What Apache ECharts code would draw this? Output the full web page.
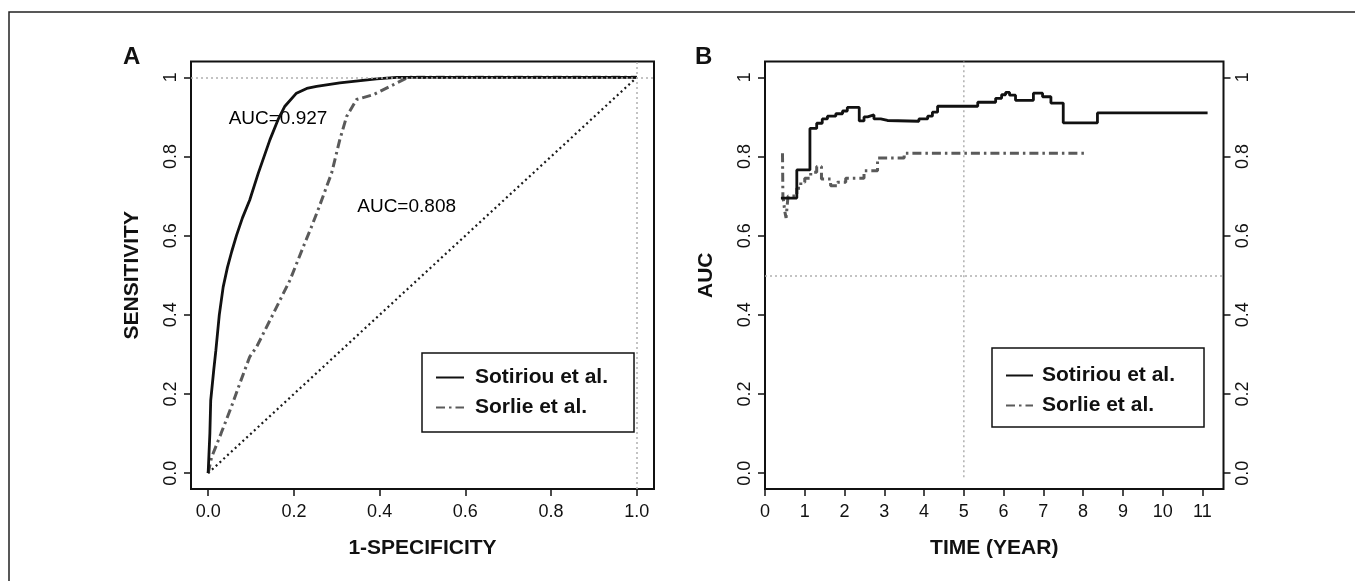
<!DOCTYPE html>
<html><head><meta charset="utf-8">
<script src="https://cdn.jsdelivr.net/npm/echarts@6/dist/echarts.min.js"></script>
<style>html,body{margin:0;padding:0;background:#fff}#c{width:1355px;height:581px}</style>
</head><body><div id="c"></div><script>
// ---------- data ----------
const seriesNames = ['Sotiriou et al.', 'Sorlie et al.'];
const xTicksA = [0, 0.2, 0.4, 0.6, 0.8, 1.0];
const xTickLabelsA = ['0.0', '0.2', '0.4', '0.6', '0.8', '1.0'];
const yTicks = [0, 0.2, 0.4, 0.6, 0.8, 1];
const yTickLabels = ['0.0', '0.2', '0.4', '0.6', '0.8', '1'];
const xTicksB = [0, 1, 2, 3, 4, 5, 6, 7, 8, 9, 10, 11];
const xTickLabelsB = ['0', '1', '2', '3', '4', '5', '6', '7', '8', '9', '10', '11'];

// Panel A: ROC curves [1-specificity, sensitivity]
const rocSotiriou = [[0,0],[0.002,0.05],[0.004,0.1],[0.006,0.184],[0.013,0.26],[0.018,0.31],[0.026,0.4],[0.035,0.47],
  [0.045,0.52],[0.055,0.56],[0.066,0.6],[0.08,0.645],[0.097,0.69],[0.117,0.758],[0.144,0.842],[0.163,0.893],
  [0.179,0.927],[0.206,0.96],[0.23,0.972],[0.253,0.977],[0.307,0.986],[0.393,0.996],[0.44,1],[1,1]];
const rocSorlie = [[0,0],[0.008,0.04],[0.03,0.1],[0.055,0.17],[0.075,0.23],[0.097,0.294],[0.113,0.319],[0.152,0.403],
  [0.191,0.488],[0.222,0.572],[0.242,0.625],[0.258,0.67],[0.275,0.72],[0.288,0.758],[0.307,0.842],[0.323,0.901],
  [0.346,0.944],[0.385,0.956],[0.424,0.977],[0.463,0.998],[0.47,1],[1,1]];
const rocChance = [[0,0],[1,1]];
const aucLabels = [[0.163, 0.895, 'AUC=0.927'], [0.463, 0.673, 'AUC=0.808']];
const refA_h = 1, refA_v = 1;

// Panel B: time-dependent AUC [year, AUC]
const aucSotiriou = [[0.4,0.695],[0.8,0.766],[1.13,0.871],[1.3,0.884],[1.44,0.895],[1.57,0.902],[1.78,0.908],[1.95,0.915],
  [2.07,0.924],[2.37,0.890],[2.49,0.900],[2.58,0.905],[2.74,0.895],[2.91,0.891],[3.08,0.889],[3.87,0.895],[4.09,0.902],
  [4.21,0.912],[4.34,0.927],[5.35,0.937],[5.8,0.947],[5.95,0.956],[6.05,0.962],[6.15,0.955],[6.3,0.942],[6.75,0.960],
  [6.98,0.951],[7.19,0.935],[7.5,0.885],[8.36,0.910],[11.13,0.910]];
const aucSorlie = [[0.44,0.808],[0.45,0.70],[0.5,0.66],[0.53,0.645],[0.58,0.70],[0.8,0.72],[0.9,0.735],[1.0,0.745],
  [1.15,0.76],[1.3,0.775],[1.42,0.743],[1.65,0.726],[1.82,0.735],[2.03,0.745],[2.49,0.764],[2.83,0.796],[3.5,0.808],[8.11,0.808]];
const refB_h = 0.5;
const refB_v = [[5,-0.01],[5,1.04]];

// ---------- chart ----------
const F = 'Liberation Sans, Arial, Helvetica, sans-serif';
const INK = '#111';
function fmt(ticks, labels) {
  return function (v) { const i = ticks.findIndex(t => Math.abs(t - v) < 1e-9); return i >= 0 ? labels[i] : ''; };
}
function xAxisCfg(gi, min, max, ticks, labels, name) {
  return {
    type: 'value', gridIndex: gi, min: min, max: max, name: name, nameLocation: 'middle', nameGap: 49,
    nameTextStyle: { fontSize: 21, fontWeight: 'bold', color: INK, fontFamily: F },
    axisLine: { show: false, onZero: false }, splitLine: { show: false },
    axisTick: { show: true, inside: false, length: 7, lineStyle: { color: INK, width: 1.5 }, customValues: ticks },
    axisLabel: { show: true, margin: 14, fontSize: 18, color: INK, fontFamily: F, customValues: ticks,
      showMinLabel: true, showMaxLabel: true, formatter: fmt(ticks, labels) }
  };
}
function yAxisCfg(gi, pos, name) {
  return {
    type: 'value', gridIndex: gi, position: pos, min: -0.04, max: 1.04, name: name, nameLocation: 'middle', nameGap: 48,
    nameRotate: 90,
    nameTextStyle: { fontSize: 21, fontWeight: 'bold', color: INK, fontFamily: F },
    axisLine: { show: false, onZero: false }, splitLine: { show: false },
    axisTick: { show: true, inside: false, length: 7, lineStyle: { color: INK, width: 1.5 }, customValues: yTicks },
    axisLabel: { show: true, margin: 11, rotate: 90, fontSize: 18, color: INK, fontFamily: F, customValues: yTicks,
      showMinLabel: true, showMaxLabel: true, formatter: fmt(yTicks, yTickLabels) }
  };
}
const solidStyle = { color: INK, width: 2.8, type: 'solid' };
const dashDotStyle = { color: '#5a5a5a', width: 3, type: [9, 4, 2.5, 4] };
const refStyle = { color: '#b0b0b0', width: 1.5, type: [2, 3] };

function legendCfg(left, top, itemWidth, pad, textPadLeft) {
  return {
    data: seriesNames, orient: 'vertical', left: left, top: top, itemWidth: itemWidth, itemHeight: 1, itemGap: 9,
    padding: pad, borderColor: INK, borderWidth: 1.5, borderRadius: 0, backgroundColor: '#fff', selectedMode: false,
    lineStyle: { width: 2 },
    textStyle: { fontSize: 21, fontWeight: 'bold', color: INK, fontFamily: F, lineHeight: 20, padding: [0, 0, 0, textPadLeft] }
  };
}

const chart = echarts.init(document.getElementById('c'), null, { renderer: 'canvas' });
chart.setOption({
  animation: false,
  backgroundColor: '#fff',
  title: [
    { text: 'A', left: 118, top: 40, textStyle: { fontSize: 24, fontWeight: 'bold', color: INK, fontFamily: F } },
    { text: 'B', left: 690, top: 40, textStyle: { fontSize: 24, fontWeight: 'bold', color: INK, fontFamily: F } }
  ],
  graphic: [{ type: 'rect', shape: { x: 9, y: 12, width: 1400, height: 620 }, style: { fill: 'none', stroke: '#222', lineWidth: 1.5 }, silent: true }],
  grid: [
    { left: 191, top: 61.5, width: 463, height: 427.5, show: true, borderColor: INK, borderWidth: 2, backgroundColor: 'transparent' },
    { left: 765, top: 61.5, width: 458.5, height: 427.5, show: true, borderColor: INK, borderWidth: 2, backgroundColor: 'transparent' }
  ],
  xAxis: [
    xAxisCfg(0, -0.04, 1.04, xTicksA, xTickLabelsA, '1-SPECIFICITY'),
    xAxisCfg(1, 0, 11.53, xTicksB, xTickLabelsB, 'TIME (YEAR)')
  ],
  yAxis: [
    yAxisCfg(0, 'left', 'SENSITIVITY'),
    yAxisCfg(1, 'left', 'AUC'),
    Object.assign(yAxisCfg(1, 'right', ''), { name: '' })
  ],
  legend: [
    legendCfg(422, 353, 28, [14, 26, 14, 13], 6),
    legendCfg(992, 348, 27, [17, 29, 11, 13], 4)
  ],
  series: [
    { name: 'chanceA', type: 'line', xAxisIndex: 0, yAxisIndex: 0, data: rocChance, symbol: 'none', silent: true,
      lineStyle: { color: '#1a1a1a', width: 2.2, type: [2, 3.2] },
      markLine: { silent: true, symbol: 'none', label: { show: false }, lineStyle: refStyle,
        data: [{ yAxis: refA_h }, { xAxis: refA_v }] } },
    { name: seriesNames[1], type: 'line', xAxisIndex: 0, yAxisIndex: 0, data: rocSorlie, symbol: 'none', lineStyle: dashDotStyle, itemStyle: { color: '#5a5a5a' } },
    { name: seriesNames[0], type: 'line', xAxisIndex: 0, yAxisIndex: 0, data: rocSotiriou, symbol: 'none', lineStyle: solidStyle, itemStyle: { color: INK } },
    { name: 'aucText', type: 'scatter', xAxisIndex: 0, yAxisIndex: 0, symbolSize: 0, silent: true,
      itemStyle: { opacity: 1 },
      data: aucLabels.map(d => ({ value: [d[0], d[1]], label: { formatter: d[2] } })),
      label: { show: true, position: [0, 0], align: 'center', verticalAlign: 'middle', fontSize: 19, color: '#000', opacity: 1, fontFamily: F } },
    { name: 'refBv', type: 'line', xAxisIndex: 1, yAxisIndex: 1, data: refB_v, symbol: 'none', silent: true, lineStyle: refStyle,
      markLine: { silent: true, symbol: 'none', label: { show: false }, lineStyle: refStyle, data: [{ yAxis: refB_h }] } },
    { name: seriesNames[1], type: 'line', xAxisIndex: 1, yAxisIndex: 1, data: aucSorlie, step: 'end', symbol: 'none', lineStyle: dashDotStyle, itemStyle: { color: '#5a5a5a' } },
    { name: seriesNames[0], type: 'line', xAxisIndex: 1, yAxisIndex: 1, data: aucSotiriou, step: 'end', symbol: 'none', lineStyle: solidStyle, itemStyle: { color: INK } }
  ]
});
</script></body></html>
